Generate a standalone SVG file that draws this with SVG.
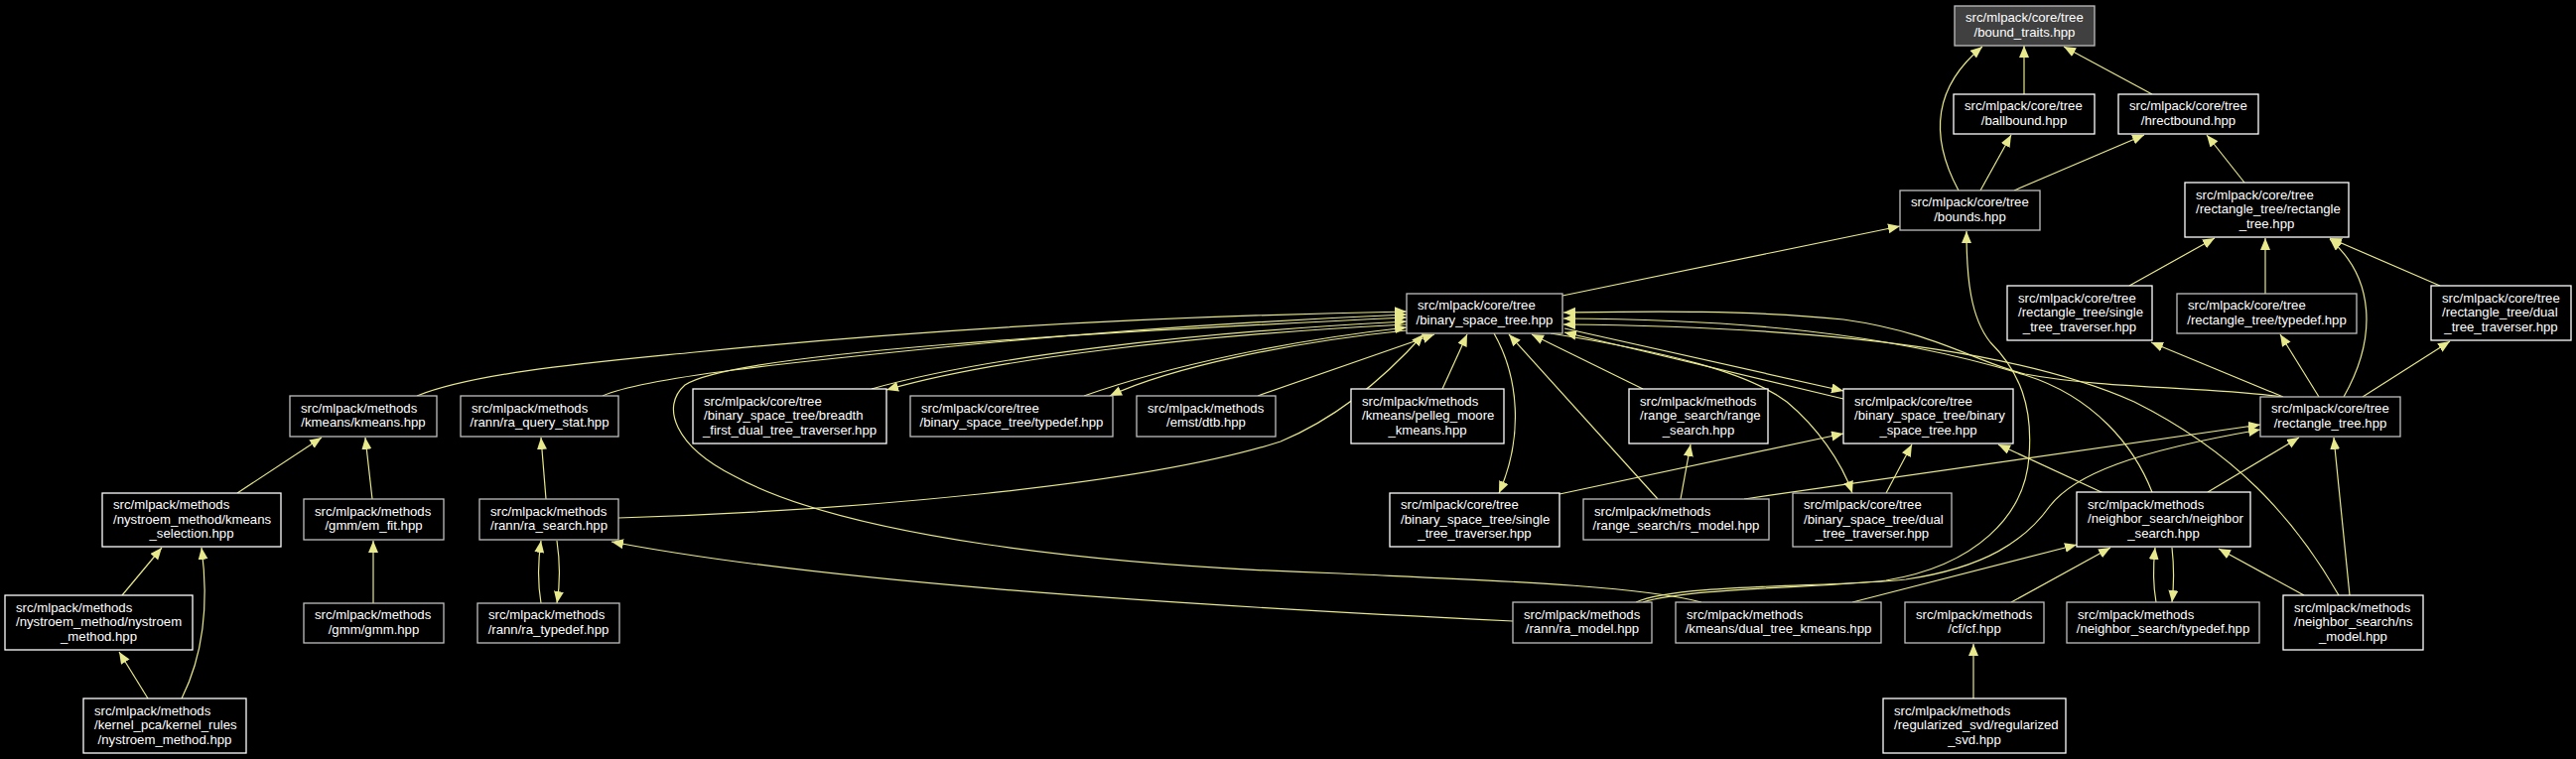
<svg xmlns="http://www.w3.org/2000/svg" width="2595" height="765" viewBox="0 0 2595 765">
<style>
.bg{fill:#000000}
.n rect{fill:#000000;stroke-width:1.3}
.w rect{stroke:#ffffff}
.g rect{stroke:#bfbfbf}
.root rect{fill:#404040;stroke:#bfbfbf}
text{font-family:"Liberation Sans",Arial,sans-serif;font-size:13.2px;fill:#ffffff}
.m{text-anchor:middle}
.e path{fill:none;stroke:#e8e88c;stroke-width:1.2;marker-end:url(#ah)}
</style>
<defs>
<marker id="ah" markerUnits="userSpaceOnUse" markerWidth="13" markerHeight="11" refX="12" refY="5" orient="auto">
<path d="M0,0 L12,5 L0,10 z" fill="#e8e88c"/>
</marker>
</defs>
<rect class="bg" x="0" y="0" width="2595" height="765"/>
<g id="edges" class="e">
<path d="M2039,95 L2039,46"/>
<path d="M2168,95 L2079,47"/>
<path d="M1973,192 C1945,140 1945,90 1997,47"/>
<path d="M1995,192 L2026,136"/>
<path d="M2029,192 L2160,136"/>
<path d="M2261,184 L2223,136"/>
<path d="M1574,298 L1914,228"/>
<path d="M2145,288 L2231,240"/>
<path d="M2282,296 L2282,240"/>
<path d="M2458,288 L2347,240"/>
<path d="M2361,400 C2395,340 2392,280 2347,241"/>
<path d="M2336,400 L2297,337"/>
<path d="M2380,400 L2468,344"/>
<path d="M2300,400 L2167,345"/>
<path d="M2299,400 C2230,390 2120,392 2040,377 C1990,365 1950,335 1857,322 C1760,312 1650,314 1575,315"/>
<path d="M1655,607 C1700,592 1850,592 1900,585 C1990,570 2040,520 2044,460 C2048,410 2035,375 2005,345 C1985,320 1981,280 1981,233"/>
<path d="M1648,607 C1690,588 1850,592 1920,584 C2000,572 2040,545 2065,510 C2090,478 2150,455 2277,433"/>
<path d="M1757,503 L2277,428"/>
<path d="M2168,496 C2150,450 2110,400 2040,378 C1900,335 1750,322 1575,321"/>
<path d="M2356,600 C2310,520 2250,455 2150,405 C2060,365 1900,330 1575,327"/>
<path d="M1576,331 L1857,394"/>
<path d="M1857,402 L1576,335"/>
<path d="M1562,336 C1680,355 1760,375 1800,405 C1830,430 1855,465 1866,497"/>
<path d="M1505,336 C1530,380 1535,440 1510,497"/>
<path d="M1670,503 L1520,337"/>
<path d="M1655,392 L1543,337"/>
<path d="M1693,503 L1703,448"/>
<path d="M1453,392 L1478,337"/>
<path d="M1900,497 L1926,448"/>
<path d="M1571,498 L1857,437"/>
<path d="M2119,497 L2013,448"/>
<path d="M2224,496 L2316,441"/>
<path d="M2367,600 L2351,441"/>
<path d="M2321,600 L2235,553"/>
<path d="M2172,607 C2169,590 2169,570 2171,552"/>
<path d="M2188,552 C2190,570 2190,590 2188,607"/>
<path d="M2026,607 L2126,552"/>
<path d="M1866,607 L2092,549"/>
<path d="M1988,704 L1988,649"/>
<path d="M1714,607 C1650,590 1500,585 1350,578 C1100,570 850,540 740,480 C680,450 665,410 690,388 C740,355 1100,335 1417,320"/>
<path d="M420,399 C480,375 600,365 700,355 C950,330 1200,318 1417,314"/>
<path d="M607,399 C650,380 800,365 950,350 C1150,330 1300,322 1417,317"/>
<path d="M1417,327 C1200,338 1000,362 893,393"/>
<path d="M878,392 C990,360 1200,335 1417,324"/>
<path d="M1417,333 C1300,345 1180,370 1118,399"/>
<path d="M1092,399 C1180,368 1300,343 1417,330"/>
<path d="M1267,399 L1445,337"/>
<path d="M623,522 C850,515 1150,490 1290,445 C1350,420 1400,375 1434,337"/>
<path d="M1524,626 C1150,608 820,585 616,546"/>
<path d="M545,608 C542,590 542,565 545,545"/>
<path d="M561,545 C564,565 564,590 561,608"/>
<path d="M550,503 L545,441"/>
<path d="M375,503 L368,441"/>
<path d="M239,497 L324,441"/>
<path d="M376,608 L376,545"/>
<path d="M123,600 L163,552"/>
<path d="M149,704 L120,657"/>
<path d="M183,704 C200,670 212,620 203,552"/>
</g>
<g id="node1" class="n root"><rect x="1969" y="6" width="141" height="40"/><text x="1980" y="22.25">src/mlpack/core/tree</text><text class="m" x="2039.5" y="36.75">/bound_traits.hpp</text></g>
<g id="node2" class="n w"><rect x="1968" y="95" width="142" height="40"/><text x="1979" y="111.25">src/mlpack/core/tree</text><text class="m" x="2039" y="125.75">/ballbound.hpp</text></g>
<g id="node3" class="n w"><rect x="2134" y="95" width="141" height="40"/><text x="2145" y="111.25">src/mlpack/core/tree</text><text class="m" x="2204.5" y="125.75">/hrectbound.hpp</text></g>
<g id="node4" class="n g"><rect x="1914" y="192" width="141" height="40"/><text x="1925" y="208.25">src/mlpack/core/tree</text><text class="m" x="1984.5" y="222.75">/bounds.hpp</text></g>
<g id="node5" class="n w"><rect x="2201" y="184" width="165" height="55"/><text x="2212" y="200.5">src/mlpack/core/tree</text><text x="2212" y="215">/rectangle_tree/rectangle</text><text class="m" x="2283.5" y="229.5">_tree.hpp</text></g>
<g id="node6" class="n w"><rect x="2022" y="288" width="146" height="55"/><text x="2033" y="304.5">src/mlpack/core/tree</text><text x="2033" y="319">/rectangle_tree/single</text><text class="m" x="2095" y="333.5">_tree_traverser.hpp</text></g>
<g id="node7" class="n g"><rect x="2193" y="296" width="181" height="40"/><text x="2204" y="312.25">src/mlpack/core/tree</text><text class="m" x="2283.5" y="326.75">/rectangle_tree/typedef.hpp</text></g>
<g id="node8" class="n w"><rect x="2449" y="288" width="141" height="55"/><text x="2460" y="304.5">src/mlpack/core/tree</text><text x="2460" y="319">/rectangle_tree/dual</text><text class="m" x="2519.5" y="333.5">_tree_traverser.hpp</text></g>
<g id="node9" class="n g"><rect x="2277" y="400" width="141" height="40"/><text x="2288" y="416.25">src/mlpack/core/tree</text><text class="m" x="2347.5" y="430.75">/rectangle_tree.hpp</text></g>
<g id="node10" class="n g"><rect x="1417" y="296" width="157" height="40"/><text x="1428" y="312.25">src/mlpack/core/tree</text><text class="m" x="1495.5" y="326.75">/binary_space_tree.hpp</text></g>
<g id="node11" class="n g"><rect x="292" y="399" width="148" height="41"/><text x="303" y="415.75">src/mlpack/methods</text><text class="m" x="366" y="430.25">/kmeans/kmeans.hpp</text></g>
<g id="node12" class="n g"><rect x="464" y="399" width="159" height="41"/><text x="475" y="415.75">src/mlpack/methods</text><text class="m" x="543.5" y="430.25">/rann/ra_query_stat.hpp</text></g>
<g id="node13" class="n w"><rect x="698" y="392" width="195" height="55"/><text x="709" y="408.5">src/mlpack/core/tree</text><text x="709" y="423">/binary_space_tree/breadth</text><text class="m" x="795.5" y="437.5">_first_dual_tree_traverser.hpp</text></g>
<g id="node14" class="n g"><rect x="917" y="399" width="204" height="41"/><text x="928" y="415.75">src/mlpack/core/tree</text><text class="m" x="1019" y="430.25">/binary_space_tree/typedef.hpp</text></g>
<g id="node15" class="n g"><rect x="1145" y="399" width="140" height="41"/><text x="1156" y="415.75">src/mlpack/methods</text><text class="m" x="1215" y="430.25">/emst/dtb.hpp</text></g>
<g id="node16" class="n w"><rect x="1361" y="392" width="154" height="55"/><text x="1372" y="408.5">src/mlpack/methods</text><text x="1372" y="423">/kmeans/pelleg_moore</text><text class="m" x="1438" y="437.5">_kmeans.hpp</text></g>
<g id="node17" class="n w"><rect x="1641" y="392" width="140" height="55"/><text x="1652" y="408.5">src/mlpack/methods</text><text x="1652" y="423">/range_search/range</text><text class="m" x="1711" y="437.5">_search.hpp</text></g>
<g id="node18" class="n w"><rect x="1857" y="392" width="171" height="55"/><text x="1868" y="408.5">src/mlpack/core/tree</text><text x="1868" y="423">/binary_space_tree/binary</text><text class="m" x="1942.5" y="437.5">_space_tree.hpp</text></g>
<g id="node19" class="n w"><rect x="103" y="497" width="180" height="54"/><text x="114" y="513">src/mlpack/methods</text><text x="114" y="527.5">/nystroem_method/kmeans</text><text class="m" x="193" y="542">_selection.hpp</text></g>
<g id="node20" class="n g"><rect x="306" y="503" width="141" height="41"/><text x="317" y="519.75">src/mlpack/methods</text><text class="m" x="376.5" y="534.25">/gmm/em_fit.hpp</text></g>
<g id="node21" class="n g"><rect x="483" y="503" width="140" height="41"/><text x="494" y="519.75">src/mlpack/methods</text><text class="m" x="553" y="534.25">/rann/ra_search.hpp</text></g>
<g id="node22" class="n w"><rect x="1400" y="497" width="171" height="54"/><text x="1411" y="513">src/mlpack/core/tree</text><text x="1411" y="527.5">/binary_space_tree/single</text><text class="m" x="1485.5" y="542">_tree_traverser.hpp</text></g>
<g id="node23" class="n g"><rect x="1595" y="503" width="187" height="41"/><text x="1606" y="519.75">src/mlpack/methods</text><text class="m" x="1688.5" y="534.25">/range_search/rs_model.hpp</text></g>
<g id="node24" class="n g"><rect x="1806" y="497" width="160" height="54"/><text x="1817" y="513">src/mlpack/core/tree</text><text x="1817" y="527.5">/binary_space_tree/dual</text><text class="m" x="1886" y="542">_tree_traverser.hpp</text></g>
<g id="node25" class="n w"><rect x="2092" y="496" width="175" height="55"/><text x="2103" y="512.5">src/mlpack/methods</text><text x="2103" y="527">/neighbor_search/neighbor</text><text class="m" x="2179.5" y="541.5">_search.hpp</text></g>
<g id="node26" class="n w"><rect x="5" y="600" width="189" height="55"/><text x="16" y="616.5">src/mlpack/methods</text><text x="16" y="631">/nystroem_method/nystroem</text><text class="m" x="99.5" y="645.5">_method.hpp</text></g>
<g id="node27" class="n g"><rect x="306" y="608" width="141" height="40"/><text x="317" y="624.25">src/mlpack/methods</text><text class="m" x="376.5" y="638.75">/gmm/gmm.hpp</text></g>
<g id="node28" class="n g"><rect x="481" y="608" width="143" height="40"/><text x="492" y="624.25">src/mlpack/methods</text><text class="m" x="552.5" y="638.75">/rann/ra_typedef.hpp</text></g>
<g id="node29" class="n g"><rect x="1524" y="607" width="140" height="41"/><text x="1535" y="623.75">src/mlpack/methods</text><text class="m" x="1594" y="638.25">/rann/ra_model.hpp</text></g>
<g id="node30" class="n g"><rect x="1688" y="607" width="207" height="41"/><text x="1699" y="623.75">src/mlpack/methods</text><text class="m" x="1791.5" y="638.25">/kmeans/dual_tree_kmeans.hpp</text></g>
<g id="node31" class="n g"><rect x="1919" y="607" width="140" height="41"/><text x="1930" y="623.75">src/mlpack/methods</text><text class="m" x="1989" y="638.25">/cf/cf.hpp</text></g>
<g id="node32" class="n g"><rect x="2082" y="607" width="194" height="41"/><text x="2093" y="623.75">src/mlpack/methods</text><text class="m" x="2179" y="638.25">/neighbor_search/typedef.hpp</text></g>
<g id="node33" class="n w"><rect x="2300" y="600" width="141" height="55"/><text x="2311" y="616.5">src/mlpack/methods</text><text x="2311" y="631">/neighbor_search/ns</text><text class="m" x="2370.5" y="645.5">_model.hpp</text></g>
<g id="node34" class="n w"><rect x="84" y="704" width="164" height="55"/><text x="95" y="720.5">src/mlpack/methods</text><text x="95" y="735">/kernel_pca/kernel_rules</text><text class="m" x="166" y="749.5">/nystroem_method.hpp</text></g>
<g id="node35" class="n w"><rect x="1897" y="704" width="184" height="55"/><text x="1908" y="720.5">src/mlpack/methods</text><text x="1908" y="735">/regularized_svd/regularized</text><text class="m" x="1989" y="749.5">_svd.hpp</text></g>
</svg>
